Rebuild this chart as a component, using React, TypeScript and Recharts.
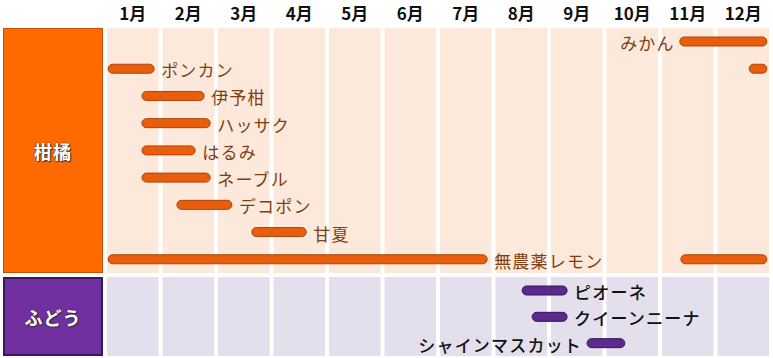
import { BarChart, Bar, XAxis, YAxis, ReferenceArea, LabelList } from "recharts";

const months = [1, 2, 3, 4, 5, 6, 7, 8, 9, 10, 11, 12];
const monthTicks = months.map((m) => m - 1 + 0.465);

// citrus (柑橘) — values are month positions, 0 = start of Jan, 12 = end of Dec
const citrusNames = ["みかん", "ポンカン", "伊予柑", "ハッサク", "はるみ", "ネーブル", "デコポン", "甘夏", "無農薬レモン"];
const citrusMain: [number, number][] = [
  [10.32, 11.89],
  [0.02, 0.85],
  [0.63, 1.75],
  [0.63, 1.86],
  [0.63, 1.59],
  [0.63, 1.86],
  [1.26, 2.25],
  [2.61, 3.59],
  [0.02, 6.85],
];
const citrusExtra: ([number, number] | null)[] = [null, [11.57, 11.89], null, null, null, null, null, null, [10.34, 11.89]];
const citrusSide = ["left", "right", "right", "right", "right", "right", "right", "right", "right"];

// grapes (ぶどう)
const grapeNames = ["ピオーネ", "クイーンニーナ", "シャインマスカット"];
const grapeMain: [number, number][] = [
  [7.48, 8.29],
  [7.66, 8.29],
  [8.65, 9.33],
];
const grapeSide = ["right", "right", "left"];

const FONT = "'Noto Sans CJK JP', 'Noto Sans', sans-serif";

const citrusData = citrusNames.map((name, i) => ({ name, main: citrusMain[i], extra: citrusExtra[i] }));
const grapeData = grapeNames.map((name, i) => ({ name, main: grapeMain[i] }));

const makeLabel = (side: string[], color: string, weight: number) => (props: any) => {
  const { x, y, width, height, value, index } = props;
  const left = side[index] === "left";
  const tx = left ? Number(x) - 5 : Number(x) + Number(width) + 7;
  return (
    <text
      x={tx}
      y={Number(y) + Number(height) / 2 + 1}
      textAnchor={left ? "end" : "start"}
      dominantBaseline="central"
      fill={color}
      fontSize={17}
      fontWeight={weight}
      fontFamily={FONT}
      style={{ letterSpacing: 1.2 }}
    >
      {value}
    </text>
  );
};

function Columns({ fill }: { fill: string }) {
  return (
    <>
      {months.map((m) => (
        <ReferenceArea key={m} x1={m - 1} x2={m - 1 + 0.93} fill={fill} fillOpacity={1} stroke="none" />
      ))}
    </>
  );
}

const boxText: React.CSSProperties = {
  color: "#fff",
  fontFamily: FONT,
  fontWeight: 700,
  fontSize: 18,
  letterSpacing: 1,
  textShadow: "0 0 2px #333, 1px 1px 1px #333",
  display: "flex",
  alignItems: "center",
  justifyContent: "center",
  position: "absolute",
  boxSizing: "border-box",
};

export default function App() {
  return (
    <div style={{ position: "absolute", left: 0, top: 0, width: 773, height: 358, background: "#fff" }}>
      <div style={{ ...boxText, left: 3, top: 28, width: 100, height: 245, background: "#ff6a00", border: "1px solid #c94f00" }}>
        柑橘
      </div>
      <div style={{ ...boxText, left: 3, top: 277, width: 100, height: 79, background: "#7030a0", border: "2px solid #3a1560" }}>
        ふどう
      </div>

      <div style={{ position: "absolute", left: 0, top: 0 }}>
        <BarChart
          width={773}
          height={273}
          layout="vertical"
          data={citrusData}
          margin={{ top: 0, right: 0, bottom: 0, left: 107 }}
          barSize={9}
          barGap={-9}
        >
          {Columns({ fill: "#fce9dc" })}
          <XAxis
            type="number"
            orientation="top"
            domain={[0, 12]}
            ticks={monthTicks}
            tickFormatter={(v: number) => `${Math.floor(v) + 1}月`}
            axisLine={false}
            tickLine={false}
            tickSize={0}
            tickMargin={8}
            height={28}
            interval={0}
            tick={{ fill: "#111", fontSize: 17, fontWeight: 700, fontFamily: FONT }}
          />
          <YAxis type="category" dataKey="name" hide />
          <Bar dataKey="main" fill="#e85e0c" stroke="#b04206" strokeWidth={1} radius={4.5} isAnimationActive={false}>
            <LabelList dataKey="name" content={makeLabel(citrusSide, "#7e3f10", 400)} />
          </Bar>
          <Bar dataKey="extra" fill="#e85e0c" stroke="#b04206" strokeWidth={1} radius={4.5} isAnimationActive={false} />
        </BarChart>
      </div>

      <div style={{ position: "absolute", left: 0, top: 277 }}>
        <BarChart
          width={773}
          height={79}
          layout="vertical"
          data={grapeData}
          margin={{ top: 0, right: 0, bottom: 0, left: 107 }}
          barSize={9}
        >
          {Columns({ fill: "#e3dfec" })}
          <XAxis type="number" domain={[0, 12]} hide />
          <YAxis type="category" dataKey="name" hide />
          <Bar dataKey="main" fill="#5a2a8c" stroke="#361458" strokeWidth={1} radius={4.5} isAnimationActive={false}>
            <LabelList dataKey="name" content={makeLabel(grapeSide, "#111", 500)} />
          </Bar>
        </BarChart>
      </div>
    </div>
  );
}
